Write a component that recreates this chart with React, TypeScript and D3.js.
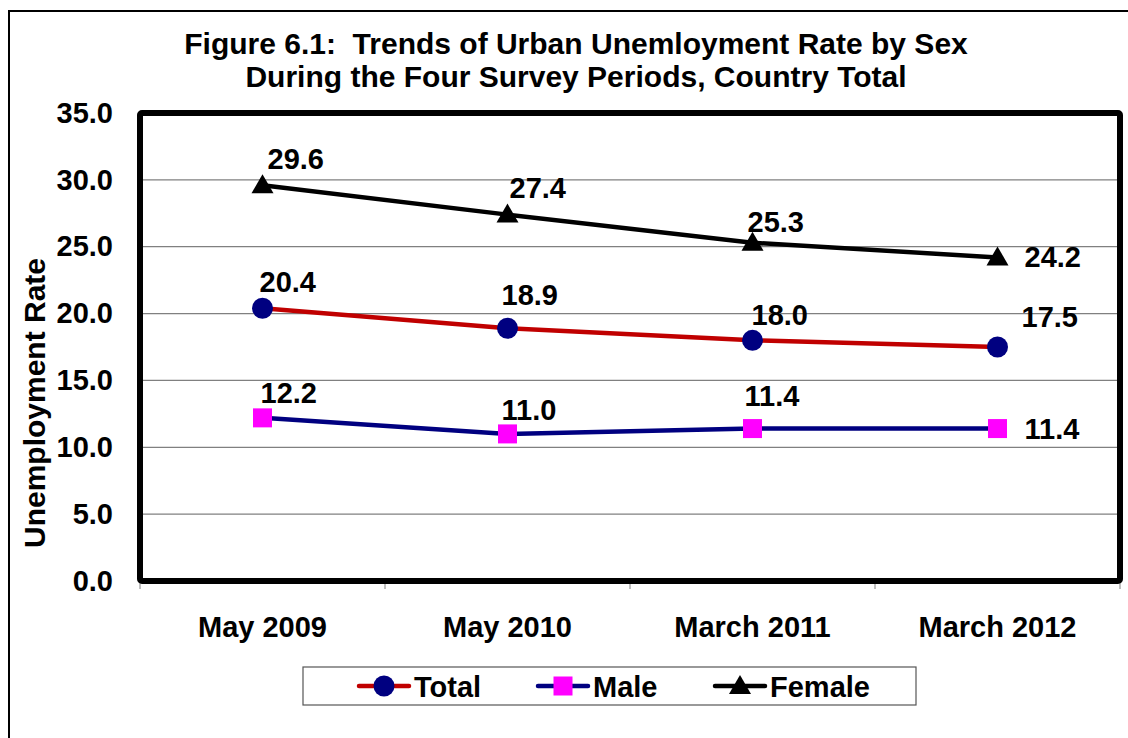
import React, { useEffect, useRef } from 'react';
import * as d3 from 'd3';

// survey periods and rates (%)
const periods = ['May 2009', 'May 2010', 'March 2011', 'March 2012'];
const totalRate = [20.4, 18.9, 18.0, 17.5];
const maleRate = [12.2, 11.0, 11.4, 11.4];
const femaleRate = [29.6, 27.4, 25.3, 24.2];
const yTicks = [0, 5, 10, 15, 20, 25, 30, 35];

interface Series {
  name: string;
  values: number[];
  color: string;
  marker: 'circle' | 'square' | 'triangle';
  markerFill: string;
  // label offsets relative to the marker, Excel style placement
  labelOffsets: [number, number][];
}

const series: Series[] = [
  {
    name: 'Total', values: totalRate, color: '#C00000', marker: 'circle', markerFill: '#000080',
    labelOffsets: [[-3, -16], [-6, -23], [-1, -15], [24, -20]],
  },
  {
    name: 'Male', values: maleRate, color: '#000080', marker: 'square', markerFill: '#FF00FF',
    labelOffsets: [[-2, -15], [-6, -14], [-8, -23], [27, 10]],
  },
  {
    name: 'Female', values: femaleRate, color: '#000000', marker: 'triangle', markerFill: '#000000',
    labelOffsets: [[5, -16], [2, -17], [-5, -11], [27, 10]],
  },
];

const FONT = '"Liberation Sans", Arial, sans-serif';

const drawMarker = (g: d3.Selection<SVGGElement, unknown, null, undefined>, kind: string, x: number, y: number, fill: string) => {
  if (kind === 'circle') {
    g.append('circle').attr('cx', x).attr('cy', y).attr('r', 10.5).attr('fill', fill);
  } else if (kind === 'square') {
    g.append('rect').attr('x', x - 9.5).attr('y', y - 9.5).attr('width', 19).attr('height', 19).attr('fill', fill);
  } else {
    g.append('path')
      .attr('d', `M${x},${y - 11}L${x + 11},${y + 8}L${x - 11},${y + 8}Z`)
      .attr('fill', fill);
  }
};

const App: React.FC = () => {
  const svgRef = useRef<SVGSVGElement | null>(null);

  useEffect(() => {
    if (!svgRef.current) return;

    const width = 1128;
    const height = 738;
    const marginLeft = 140;
    const marginRight = 8;
    const marginTop = 113;
    const plotBottom = 581;

    const svg = d3.select(svgRef.current)
      .attr('width', width)
      .attr('height', height)
      .attr('viewBox', `0 0 ${width} ${height}`);

    svg.selectAll('*').remove();

    // outer chart border (runs off the page right and bottom)
    svg.append('rect')
      .attr('x', 9).attr('y', 11)
      .attr('width', 1300).attr('height', 900)
      .attr('fill', 'white')
      .attr('stroke', 'black')
      .attr('stroke-width', 2);

    const x = d3.scaleBand()
      .domain(periods)
      .range([marginLeft, width - marginRight]);

    const y = d3.scaleLinear()
      .domain([0, 35])
      .range([plotBottom, marginTop]);

    // title
    const title = svg.append('text')
      .attr('text-anchor', 'middle')
      .attr('font-family', FONT)
      .attr('font-weight', 'bold')
      .attr('font-size', 30);
    title.append('tspan').attr('x', 576).attr('y', 54).attr('xml:space', 'preserve')
      .text('Figure 6.1:  Trends of Urban Unemloyment Rate by Sex');
    title.append('tspan').attr('x', 576).attr('y', 87)
      .text('During the Four Survey Periods, Country Total');

    // gridlines
    svg.append('g')
      .selectAll('line')
      .data(yTicks.filter(t => t > 0 && t < 35))
      .join('line')
      .attr('x1', marginLeft).attr('x2', width - marginRight)
      .attr('y1', d => y(d)).attr('y2', d => y(d))
      .attr('stroke', '#808080')
      .attr('stroke-width', 1.2);

    // y axis labels
    svg.append('g')
      .attr('transform', `translate(${marginLeft},0)`)
      .call(d3.axisLeft(y).tickValues(yTicks).tickFormat(d3.format('.1f')).tickSize(0).tickPadding(27))
      .call(g => g.select('.domain').remove())
      .call(g => g.selectAll('text')
        .attr('font-family', FONT)
        .attr('font-weight', 'bold')
        .attr('font-size', 29)
        .attr('fill', 'black'));

    // x axis with tick marks at category boundaries
    const xBound = [...periods.map(p => x(p) as number), width - marginRight];
    svg.append('g')
      .selectAll('line')
      .data(xBound)
      .join('line')
      .attr('x1', d => d).attr('x2', d => d)
      .attr('y1', plotBottom).attr('y2', plotBottom + 8)
      .attr('stroke', '#808080')
      .attr('stroke-width', 1);

    svg.append('g')
      .selectAll('text')
      .data(periods)
      .join('text')
      .attr('x', d => (x(d) as number) + x.bandwidth() / 2)
      .attr('y', 637)
      .attr('text-anchor', 'middle')
      .attr('font-family', FONT)
      .attr('font-weight', 'bold')
      .attr('font-size', 29)
      .text(d => d);

    // plot frame
    svg.append('rect')
      .attr('x', marginLeft).attr('y', marginTop)
      .attr('width', width - marginRight - marginLeft)
      .attr('height', plotBottom - marginTop)
      .attr('fill', 'none')
      .attr('stroke', 'black')
      .attr('stroke-width', 6)
      .attr('rx', 2);

    // y axis title
    svg.append('text')
      .attr('transform', `translate(45,403) rotate(-90)`)
      .attr('text-anchor', 'middle')
      .attr('font-family', FONT)
      .attr('font-weight', 'bold')
      .attr('font-size', 30)
      .text('Unemployment Rate');

    const cx = (i: number) => (x(periods[i]) as number) + x.bandwidth() / 2;

    const line = d3.line<number>()
      .x((_, i) => cx(i))
      .y(d => y(d));

    series.forEach(s => {
      const g = svg.append('g');
      g.append('path')
        .datum(s.values)
        .attr('fill', 'none')
        .attr('stroke', s.color)
        .attr('stroke-width', 4.5)
        .attr('d', line);
      s.values.forEach((v, i) => drawMarker(g, s.marker, cx(i), y(v), s.markerFill));
      g.selectAll('text.lbl')
        .data(s.values)
        .join('text')
        .attr('class', 'lbl')
        .attr('x', (_, i) => cx(i) + s.labelOffsets[i][0])
        .attr('y', (d, i) => y(d) + s.labelOffsets[i][1])
        .attr('font-family', FONT)
        .attr('font-weight', 'bold')
        .attr('font-size', 29)
        .text(d => d.toFixed(1));
    });

    // legend
    const legend = svg.append('g');
    legend.append('rect')
      .attr('x', 303).attr('y', 667)
      .attr('width', 613).attr('height', 38)
      .attr('fill', 'white')
      .attr('stroke', '#555')
      .attr('stroke-width', 1.2);
    const legendX = [384, 563, 740];
    series.forEach((s, i) => {
      const lx = legendX[i];
      const g = legend.append('g');
      g.append('line')
        .attr('x1', lx - 25).attr('x2', lx + 25)
        .attr('y1', 686).attr('y2', 686)
        .attr('stroke', s.color)
        .attr('stroke-width', 4.5)
        .attr('stroke-linecap', 'round');
      drawMarker(g, s.marker, lx, 686, s.markerFill);
      g.append('text')
        .attr('x', lx + 30)
        .attr('y', 697)
        .attr('font-family', FONT)
        .attr('font-weight', 'bold')
        .attr('font-size', 29)
        .text(s.name);
    });
  }, []);

  return (
    <svg ref={svgRef} style={{ position: 'absolute', left: 0, top: 0 }}></svg>
  );
};

export default App;
